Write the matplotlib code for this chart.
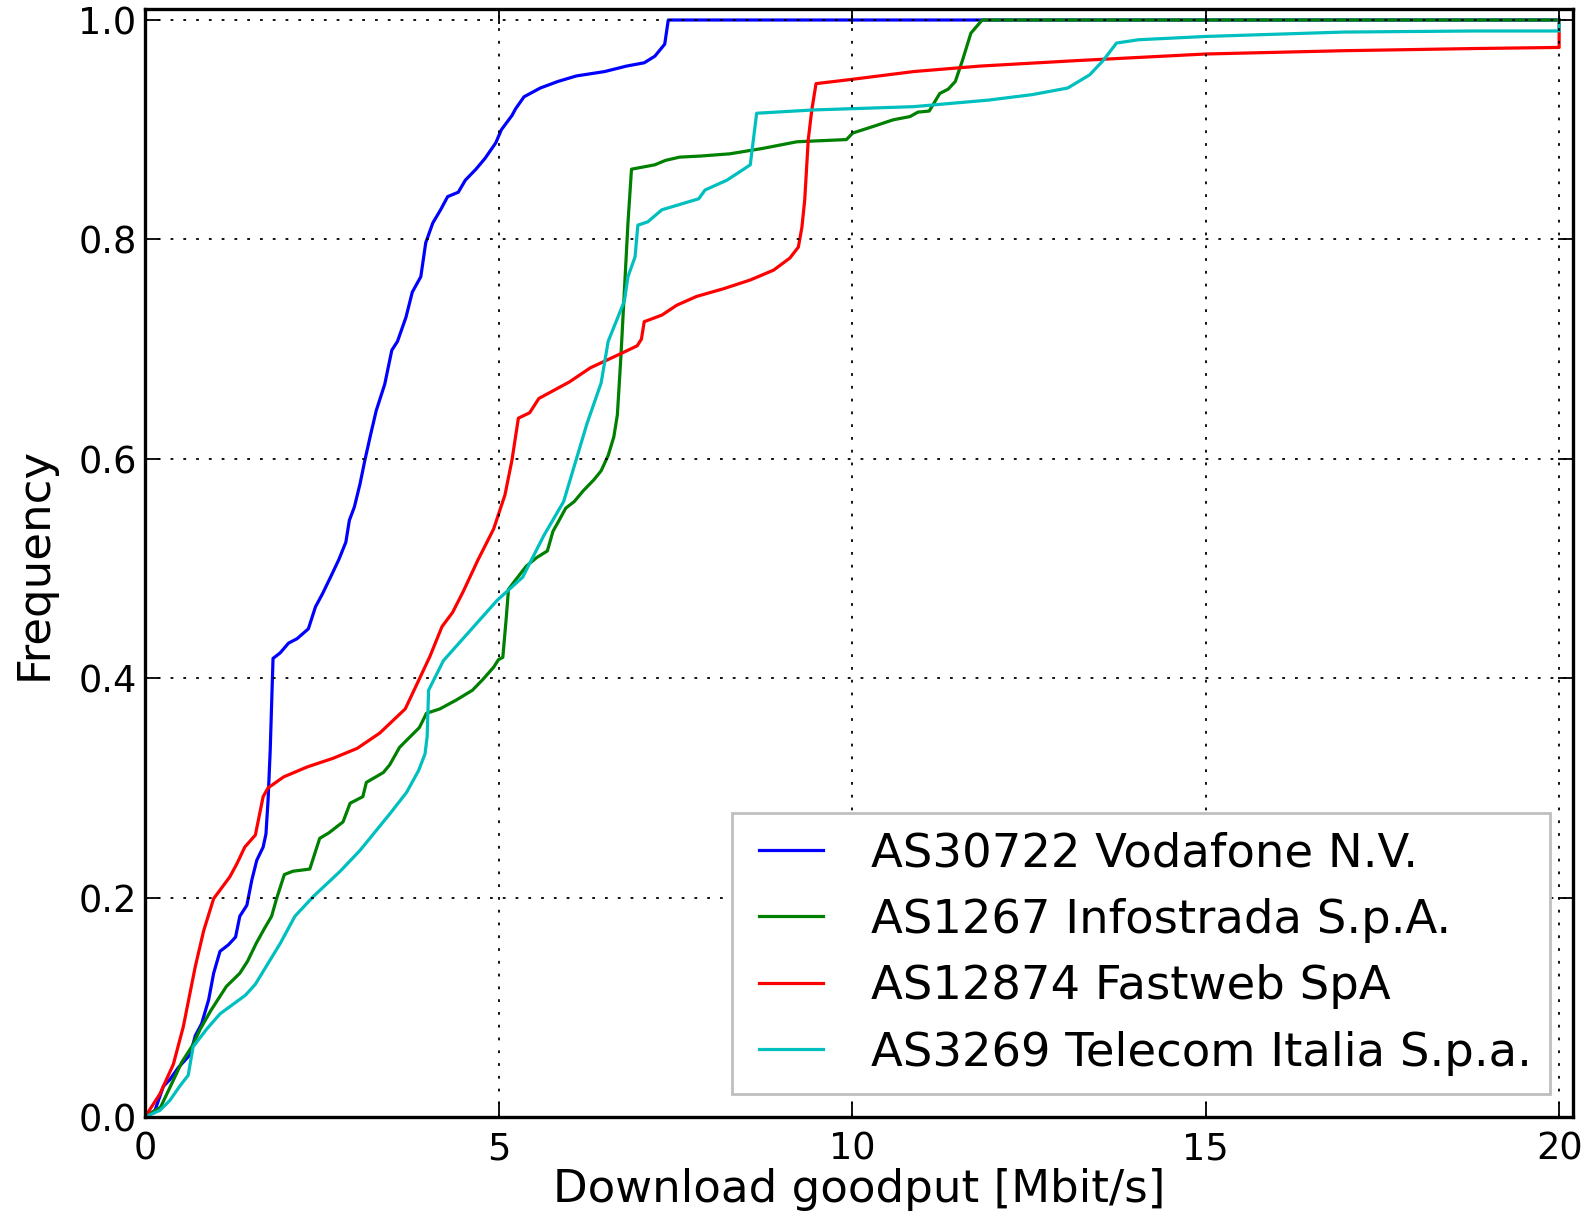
import matplotlib
matplotlib.use("Agg")
import matplotlib.pyplot as plt
from matplotlib.legend_handler import HandlerLine2D
from matplotlib.lines import Line2D

# ---- data ----
labels = ["AS30722 Vodafone N.V.", "AS1267 Infostrada S.p.A.",
          "AS12874 Fastweb SpA", "AS3269 Telecom Italia S.p.a."]
colors = ["#0000ff", "#008000", "#ff0000", "#00bfbf"]

vodafone_x = [0, 0.14, 0.26, 0.35, 0.47, 0.64, 0.71, 0.80, 0.90, 0.97, 1.06, 1.18, 1.28, 1.34, 1.44, 1.51,
              1.58, 1.67, 1.71, 1.74, 1.77, 1.81, 1.91, 2.03, 2.15, 2.31, 2.41, 2.51, 2.63, 2.74, 2.84, 2.89,
              2.96, 3.04, 3.11, 3.19, 3.27, 3.39, 3.49, 3.57, 3.69, 3.78, 3.90, 3.97, 4.07, 4.18, 4.28, 4.43,
              4.53, 4.68, 4.81, 4.96, 5.04, 5.19, 5.24, 5.36, 5.59, 5.84, 6.10, 6.50, 6.81, 7.06, 7.21, 7.35,
              7.40, 20.0]
vodafone_y = [0, 0.006, 0.028, 0.034, 0.045, 0.057, 0.074, 0.085, 0.107, 0.131, 0.151, 0.157, 0.164, 0.183,
              0.193, 0.216, 0.234, 0.246, 0.258, 0.289, 0.334, 0.418, 0.423, 0.432, 0.436, 0.445, 0.465, 0.477,
              0.493, 0.508, 0.524, 0.544, 0.556, 0.577, 0.599, 0.622, 0.644, 0.668, 0.699, 0.707, 0.729, 0.752,
              0.766, 0.797, 0.815, 0.827, 0.839, 0.843, 0.854, 0.864, 0.874, 0.888, 0.900, 0.913, 0.919, 0.930,
              0.938, 0.944, 0.949, 0.953, 0.958, 0.961, 0.967, 0.978, 1.0, 1.0]

infostrada_x = [0, 0.22, 0.36, 0.52, 0.67, 0.78, 0.93, 1.03, 1.15, 1.34, 1.45, 1.57, 1.69, 1.79, 1.86, 1.97,
                2.09, 2.33, 2.40, 2.47, 2.60, 2.80, 2.90, 3.08, 3.13, 3.37, 3.46, 3.60, 3.74, 3.88, 3.98, 4.17,
                4.40, 4.63, 4.78, 4.93, 5.00, 5.06, 5.11, 5.14, 5.21, 5.39, 5.54, 5.69, 5.77, 5.84, 5.95, 6.07,
                6.20, 6.35, 6.45, 6.55, 6.63, 6.68, 6.73, 6.78, 6.83, 6.88, 7.21, 7.36, 7.56, 7.86, 8.27, 8.74,
                9.22, 9.92, 10.01, 10.30, 10.58, 10.82, 10.93, 11.09, 11.24, 11.36, 11.46, 11.56, 11.68, 11.84,
                20.0]
infostrada_y = [0, 0.009, 0.028, 0.050, 0.065, 0.080, 0.097, 0.107, 0.119, 0.131, 0.142, 0.158, 0.172, 0.183,
                0.199, 0.221, 0.224, 0.226, 0.240, 0.254, 0.259, 0.269, 0.286, 0.292, 0.305, 0.314, 0.321, 0.337,
                0.346, 0.355, 0.368, 0.372, 0.380, 0.389, 0.399, 0.410, 0.417, 0.419, 0.456, 0.481, 0.487, 0.502,
                0.510, 0.516, 0.534, 0.542, 0.555, 0.561, 0.571, 0.581, 0.589, 0.603, 0.620, 0.640, 0.693, 0.754,
                0.815, 0.864, 0.868, 0.872, 0.875, 0.876, 0.878, 0.883, 0.889, 0.891, 0.897, 0.903, 0.909, 0.912,
                0.916, 0.917, 0.933, 0.937, 0.944, 0.963, 0.988, 1.0, 1.0]

fastweb_x = [0, 0.21, 0.40, 0.54, 0.71, 0.83, 0.97, 1.20, 1.30, 1.41, 1.56, 1.67, 1.74, 1.96, 2.29, 2.66, 3.00,
             3.32, 3.68, 3.87, 4.03, 4.20, 4.35, 4.50, 4.71, 4.93, 5.09, 5.19, 5.28, 5.44, 5.57, 6.00, 6.30, 6.70,
             6.96, 7.02, 7.06, 7.31, 7.52, 7.80, 8.18, 8.56, 8.89, 9.12, 9.24, 9.29, 9.33, 9.38, 9.43, 9.49,
             10.01, 10.87, 11.81, 13.18, 15.0, 16.94, 18.81, 20.0, 20.0]
fastweb_y = [0, 0.021, 0.048, 0.082, 0.137, 0.170, 0.199, 0.219, 0.231, 0.246, 0.257, 0.292, 0.300, 0.310,
             0.319, 0.327, 0.336, 0.350, 0.372, 0.398, 0.420, 0.447, 0.460, 0.479, 0.508, 0.536, 0.567, 0.599,
             0.637, 0.642, 0.655, 0.670, 0.683, 0.695, 0.703, 0.709, 0.725, 0.731, 0.740, 0.748, 0.755, 0.763,
             0.772, 0.783, 0.793, 0.811, 0.836, 0.891, 0.918, 0.942, 0.946, 0.953, 0.958, 0.963, 0.969, 0.972,
             0.974, 0.975, 1.0]

telecom_x = [0, 0.21, 0.35, 0.49, 0.61, 0.68, 0.87, 1.06, 1.42, 1.56, 1.91, 2.12, 2.38, 2.76, 3.04, 3.47, 3.70,
             3.87, 3.96, 3.99, 4.01, 4.08, 4.22, 4.98, 5.34, 5.64, 5.92, 6.25, 6.45, 6.55, 6.78, 6.83, 6.93, 6.97,
             7.11, 7.31, 7.83, 7.92, 8.23, 8.42, 8.56, 8.65, 9.45, 10.87, 11.93, 12.55, 13.05, 13.36, 13.55,
             13.74, 14.05, 15.0, 16.94, 18.81, 20.0, 20.0]
telecom_y = [0, 0.006, 0.015, 0.028, 0.038, 0.064, 0.080, 0.094, 0.111, 0.121, 0.158, 0.183, 0.201, 0.224,
             0.243, 0.277, 0.296, 0.316, 0.331, 0.347, 0.389, 0.398, 0.416, 0.471, 0.492, 0.530, 0.561, 0.632,
             0.669, 0.707, 0.744, 0.766, 0.784, 0.813, 0.816, 0.827, 0.837, 0.845, 0.854, 0.862, 0.868, 0.915,
             0.918, 0.921, 0.927, 0.932, 0.938, 0.950, 0.963, 0.979, 0.982, 0.985, 0.989, 0.990, 0.990, 1.0]

x_ticks = [0, 5, 10, 15, 20]
y_ticks = [0.0, 0.2, 0.4, 0.6, 0.8, 1.0]
x_label = "Download goodput [Mbit/s]"
y_label = "Frequency"

# ---- figure ----
plt.rcParams["font.family"] = ["DejaVu Sans"]
plt.rcParams["lines.scale_dashes"] = False

fig = plt.figure(figsize=(15.94, 12.21), dpi=100)
ax = fig.add_axes([0.091, 0.0852, 0.987 - 0.091, 0.9926 - 0.0852])

series = [(vodafone_x, vodafone_y), (infostrada_x, infostrada_y),
          (fastweb_x, fastweb_y), (telecom_x, telecom_y)]
for (xs, ys), c, lab in zip(series, colors, labels):
    ax.plot(xs, ys, color=c, lw=2.3, label=lab, zorder=2)

ax.set_xlim(0, 20.2)
ax.set_ylim(0, 1.01)
ax.set_xticks(x_ticks)
ax.set_yticks(y_ticks)
ax.set_yticklabels([f"{v:.1f}" for v in y_ticks])
ax.set_axisbelow(False)
ax.grid(True, color="black", linestyle=(0, (2.0, 7.2)), linewidth=1.3)

ax.tick_params(direction="in", length=11, width=1.3, labelsize=26.5,
               top=True, right=True, pad=6)
ax.tick_params(axis="x", pad=10)
for s in ax.spines.values():
    s.set_linewidth(2.4)

ax.set_xlabel(x_label, fontsize=32.5, labelpad=0)
ax.set_ylabel(y_label, fontsize=32.5, labelpad=16)

leg = ax.legend(loc="lower right", fontsize=33.5, fancybox=False, framealpha=1,
                edgecolor="#bfbfbf", handlelength=1.55, handletextpad=1.03,
                borderaxespad=0.49, borderpad=0.40, labelspacing=0.46,
                handler_map={Line2D: HandlerLine2D(xpad=0.17)})
leg.get_frame().set_linewidth(2.0)
for line in leg.get_lines():
    line.set_linewidth(2.3)

fig.savefig("out.png", dpi=100)
